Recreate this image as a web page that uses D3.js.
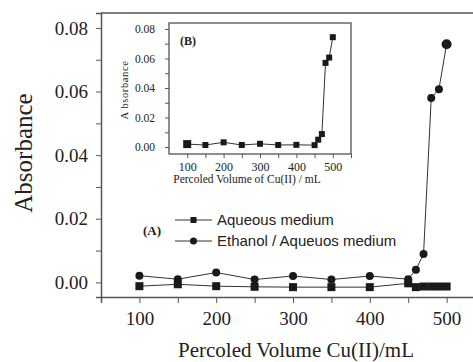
<!DOCTYPE html>
<html lang="en">
<head>
<meta charset="UTF-8">
<title>Absorbance vs percoled volume</title>
<script src="https://cdn.jsdelivr.net/npm/d3@7"></script>
<style>
  body { margin: 0; background: #fff; }
  .serif { font-family: "Liberation Serif", "Times New Roman", serif; fill: #222; }
  .sans { font-family: "Liberation Sans", Arial, sans-serif; fill: #222; }
  .axis path, .axis line { stroke: #555; }
</style>
</head>
<body>
<script>
// main chart (A)
var volumes = [100, 150, 200, 250, 300, 350, 400, 450, 460, 470, 480, 490, 500];
var aqueous = [-0.0012, -0.0006, -0.0012, -0.0014, -0.0015, -0.0015, -0.0015, -0.0003, -0.0015, -0.0013, -0.0013, -0.0013, -0.0013];
var ethanol = [0.0021, 0.001, 0.0031, 0.0009, 0.002, 0.0009, 0.002, 0.001, 0.004, 0.0089, 0.058, 0.0607, 0.0749];
// inset (B)
var insetVolumes = [100, 150, 200, 250, 300, 350, 400, 450, 460, 470, 480, 490, 500];
var insetAbs = [0.002, 0.0014, 0.0032, 0.0014, 0.0022, 0.0014, 0.0015, 0.0013, 0.005, 0.0088, 0.057, 0.0606, 0.0744];
var yTicks = [0, 0.02, 0.04, 0.06, 0.08];
var xTicks = [100, 200, 300, 400, 500];

var SERIF = '"Liberation Serif", "Times New Roman", serif';

var svg = d3.select("body").append("svg")
  .attr("width", 473)
  .attr("height", 362);

// ---------- main plot ----------
var x = d3.scaleLinear().domain([50, 550]).range([101, 485]);
var y = d3.scaleLinear().domain([-0.0046, 0.0847]).range([297, 13]);

var minorY = d3.range(0, 0.085, 0.01);
var minorX = d3.range(100, 551, 50);

function yFmt(d) {
  var hit = yTicks.some(function(t) { return Math.abs(t - d) < 1e-9; });
  return hit ? d3.format(".2f")(d) : "";
}
function xFmt(d) {
  return xTicks.indexOf(d) >= 0 ? d : "";
}

// frame top line
svg.append("line")
  .attr("x1", 101).attr("x2", 485).attr("y1", 13).attr("y2", 13)
  .attr("stroke", "#555").attr("stroke-width", 1.5);

var yAxis = svg.append("g")
  .attr("class", "axis")
  .attr("transform", "translate(101,0)")
  .call(d3.axisLeft(y).tickValues(minorY).tickSizeOuter(0).tickSize(5).tickPadding(8).tickFormat(yFmt));
yAxis.select(".domain").attr("stroke-width", 1.5);
yAxis.selectAll("text").style("font-family", SERIF).attr("font-size", 19).attr("fill", "#222");

var xAxis = svg.append("g")
  .attr("class", "axis")
  .attr("transform", "translate(0,297)")
  .call(d3.axisBottom(x).tickValues(minorX).tickSizeOuter(0).tickSize(6).tickPadding(9).tickFormat(xFmt));
xAxis.select(".domain").attr("stroke-width", 1.5);
xAxis.selectAll("text").style("font-family", SERIF).attr("font-size", 19).attr("fill", "#222");

svg.append("text")
  .attr("class", "serif")
  .attr("transform", "translate(32,153) rotate(-90)")
  .attr("text-anchor", "middle")
  .attr("font-size", 25)
  .text("Absorbance");

svg.append("text")
  .attr("class", "serif")
  .attr("x", 296).attr("y", 357)
  .attr("text-anchor", "middle")
  .attr("font-size", 21)
  .text("Percoled Volume Cu(II)/mL");

var line = d3.line()
  .x(function(d) { return x(d[0]); })
  .y(function(d) { return y(d[1]); });

var aqData = volumes.map(function(v, i) { return [v, aqueous[i]]; });
var etData = volumes.map(function(v, i) { return [v, ethanol[i]]; });

svg.append("path").datum(etData)
  .attr("d", line).attr("fill", "none").attr("stroke", "#333").attr("stroke-width", 1);
svg.append("path").datum(aqData)
  .attr("d", line).attr("fill", "none").attr("stroke", "#333").attr("stroke-width", 1);

svg.selectAll(".aq").data(aqData).enter().append("rect")
  .attr("x", function(d) { return x(d[0]) - 4; })
  .attr("y", function(d) { return y(d[1]) - 4; })
  .attr("width", 8).attr("height", 8)
  .attr("fill", "#1a1a1a");

svg.selectAll(".et").data(etData).enter().append("circle")
  .attr("cx", function(d) { return x(d[0]); })
  .attr("cy", function(d) { return y(d[1]); })
  .attr("r", function(d, i) { return i === etData.length - 1 ? 5 : 4; })
  .attr("fill", "#1a1a1a");

// legend
svg.append("text").attr("class", "serif")
  .attr("x", 143).attr("y", 235)
  .attr("font-size", 13).attr("font-weight", "bold")
  .text("(A)");

var legend = [
  { label: "Aqueous medium", shape: "square", y: 220 },
  { label: "Ethanol / Aqueuos medium", shape: "circle", y: 241 }
];
legend.forEach(function(l) {
  svg.append("line")
    .attr("x1", 175).attr("x2", 212).attr("y1", l.y).attr("y2", l.y)
    .attr("stroke", "#333").attr("stroke-width", 1);
  if (l.shape === "square") {
    svg.append("rect").attr("x", 190.5).attr("y", l.y - 3)
      .attr("width", 6).attr("height", 6).attr("fill", "#1a1a1a");
  } else {
    svg.append("circle").attr("cx", 193.5).attr("cy", l.y)
      .attr("r", 3.5).attr("fill", "#1a1a1a");
  }
  svg.append("text").attr("class", "sans")
    .attr("x", 217).attr("y", l.y + 5)
    .attr("font-size", 15)
    .text(l.label);
});

// ---------- inset ----------
var ix = d3.scaleLinear().domain([50, 550]).range([169, 351]);
var iy = d3.scaleLinear().domain([-0.0047, 0.084]).range([154, 23]);

svg.append("rect")
  .attr("x", 169).attr("y", 23).attr("width", 182).attr("height", 131)
  .attr("fill", "#fff").attr("stroke", "#444").attr("stroke-width", 1.2);

var iyAxis = svg.append("g")
  .attr("class", "axis")
  .attr("transform", "translate(169,0)")
  .call(d3.axisLeft(iy).tickValues(minorY).tickSizeOuter(0).tickSize(4).tickPadding(10).tickFormat(yFmt));
iyAxis.select(".domain").remove();
iyAxis.selectAll("text").style("font-family", SERIF).attr("font-size", 11.5).attr("fill", "#222");

var ixAxis = svg.append("g")
  .attr("class", "axis")
  .attr("transform", "translate(0,154)")
  .call(d3.axisBottom(ix).tickValues(minorX).tickSizeOuter(0).tickSize(4).tickPadding(4).tickFormat(xFmt));
ixAxis.select(".domain").remove();
ixAxis.selectAll("text").style("font-family", SERIF).attr("font-size", 12).attr("fill", "#222");

svg.append("text").attr("class", "serif")
  .attr("transform", "translate(128,90) rotate(-90)")
  .attr("text-anchor", "middle")
  .attr("font-size", 10.5)
  .attr("letter-spacing", 0.6)
  .text("A bsorbance");

svg.append("text").attr("class", "serif")
  .attr("x", 247).attr("y", 183)
  .attr("text-anchor", "middle")
  .attr("font-size", 11.5)
  .text("Percoled Volume of Cu(II) / mL");

svg.append("text").attr("class", "serif")
  .attr("x", 180).attr("y", 45)
  .attr("font-size", 12).attr("font-weight", "bold")
  .text("(B)");

var inData = insetVolumes.map(function(v, i) { return [v, insetAbs[i]]; });
var iline = d3.line()
  .x(function(d) { return ix(d[0]); })
  .y(function(d) { return iy(d[1]); });

svg.append("path").datum(inData)
  .attr("d", iline).attr("fill", "none").attr("stroke", "#333").attr("stroke-width", 1);

svg.selectAll(".in").data(inData).enter().append("rect")
  .attr("x", function(d, i) { var s = i === 0 ? 8 : 6; return ix(d[0]) - s / 2; })
  .attr("y", function(d, i) { var s = i === 0 ? 8 : 6; return iy(d[1]) - s / 2; })
  .attr("width", function(d, i) { return i === 0 ? 8 : 6; })
  .attr("height", function(d, i) { return i === 0 ? 8 : 6; })
  .attr("fill", "#1a1a1a");
</script>
</body>
</html>
